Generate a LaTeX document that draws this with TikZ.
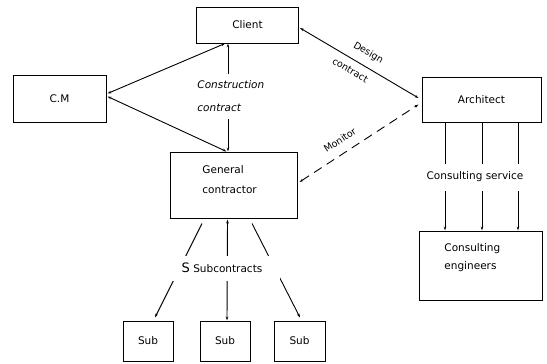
\documentclass[tikz,border=0pt]{standalone}
\usepackage{fontspec}
\setmainfont{DejaVu Sans}
\usetikzlibrary{arrows.meta,calc}
\begin{document}
\begin{tikzpicture}[x=1pt,y=-1pt,line width=0.9pt,
  box/.style={draw,line width=1pt,inner sep=0pt,font=\fontsize{10.5}{13}\selectfont},
  lbl/.style={font=\fontsize{10.5}{13}\selectfont,inner sep=1pt},
  tipe/.style={-{Stealth[length=4pt,width=2.6pt]}},
  tipb/.style={{Stealth[length=4pt,width=2.6pt]}-{Stealth[length=4pt,width=2.6pt]}},
  gap/.style={fill=white}]
\useasboundingbox (0,0) rectangle (547,364);
% boxes
\node[box,minimum width=102pt,minimum height=36pt] (client) at (247.5,25) {Client};
\node[box,minimum width=93pt,minimum height=47pt] (cm) at (59.5,98.5) {C.M};
\node[box,minimum width=127pt,minimum height=66pt] (gc) at (233.5,185) {};
\node[lbl,align=left,anchor=west,font=\fontsize{10.5}{20}\selectfont] (gct) at (201,180) {General\\contractor};
\node[box,minimum width=119pt,minimum height=45pt] (arch) at (481.5,99.5) {Architect};
\node[box,minimum width=123pt,minimum height=69pt] (ce) at (480.5,265.5) {};
\node[lbl,align=left,anchor=west,font=\fontsize{10.5}{18}\selectfont] (cet) at (443,258) {Consulting\\engineers};
\node[box,minimum width=50pt,minimum height=40pt] (sub1) at (148,341) {Sub};
\node[box,minimum width=50pt,minimum height=40pt] (sub2) at (225,341) {Sub};
\node[box,minimum width=51pt,minimum height=40pt] (sub3) at (299.5,341) {Sub};
% C.M links
\draw[tipb] ($(cm.east)+(1,-5)$) -- ($(client.south)+(-22.5,0)$);
\draw[tipb] ($(cm.east)+(1,-2)$) -- ($(gc.north)+(-7,0)$);
% construction contract
\draw[tipb] ($(client.south)+(-19.5,0)$) -- ($(gc.north)+(-5.5,0)$);
\node[lbl,gap,align=left,anchor=west,inner xsep=2pt,inner ysep=7pt,
  font=\fontsize{10.5}{23}\itshape\selectfont] (cc) at (195,96.5) {Construction\\contract};
% design contract
\draw[tipb] ($(client.east)+(1,3)$) -- ($(arch.west)+(-3,-1.5)$)
  node[pos=0.52,sloped,above=7pt,lbl,font=\fontsize{9.5}{11}\selectfont] (dl) {Design}
  node[pos=0.47,sloped,below=6pt,lbl,font=\fontsize{9.5}{11}\selectfont] (dc) {contract};
% monitor
\draw[tipb,dashed,dash pattern=on 9pt off 6pt] ($(gc.east)+(2,-3)$) -- ($(arch.west)+(-3,5)$)
  node[pos=0.4,sloped,above=8pt,lbl,font=\fontsize{9.5}{11}\selectfont] (mon) {Monitor};
% consulting service
\coordinate (c1) at ($(arch.south)+(-36.5,0)$);
\coordinate (c2) at ($(arch.south)+(0.5,0)$);
\coordinate (c3) at ($(arch.south)+(36.5,0)$);
\draw[tipe] (c1) -- (c1 |- ce.north);
\draw[tipe] (c2) -- (c2 |- ce.north);
\draw[tipe] (c3) -- (c3 |- ce.north);
\node[lbl,gap,minimum height=27pt,inner xsep=3pt] (cs) at (475,177) {Consulting service};
% subcontracts
\draw[tipe] ($(gc.south)+(-31.5,5)$) -- ($(sub1.north)+(7,-3)$);
\draw[tipb] ($(gc.south)+(-6,1)$) -- ($(sub2.north)+(2,0)$);
\draw[tipe] ($(gc.south)+(18.5,5)$) -- ($(sub3.north)+(0.5,-3)$);
\node[lbl,gap,minimum width=116pt,minimum height=25pt] (sc) at (222,268)
  {{\fontsize{13}{13}\selectfont S} Subcontracts};
\end{tikzpicture}
\end{document}
